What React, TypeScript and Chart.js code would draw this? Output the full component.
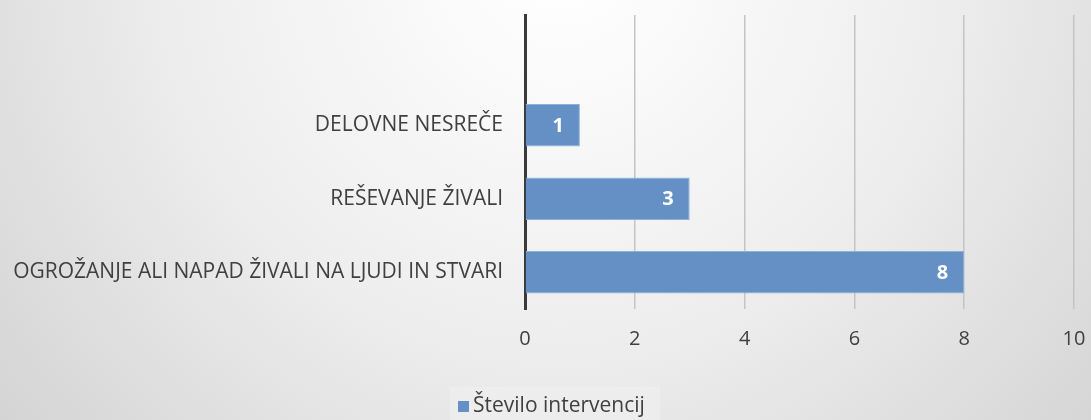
import React, { useEffect, useRef } from "react";
import { Chart, registerables } from "chart.js";

Chart.register(...registerables);

const categories = ["", "DELOVNE NESREČE", "REŠEVANJE ŽIVALI", "OGROŽANJE ALI NAPAD ŽIVALI NA LJUDI IN STVARI"];
const values: (number | null)[] = [null, 1, 3, 8];
const seriesName = "Število intervencij";
const FONT = "'Open Sans', 'DejaVu Sans', sans-serif";
const BAR = "#6590c6";

const bgPlugin = {
  id: "bg",
  beforeDraw(chart: any) {
    const { ctx, width, height } = chart;
    ctx.save();
    const g = ctx.createRadialGradient(560, -40, 20, 560, -40, 820);
    g.addColorStop(0, "#ffffff");
    g.addColorStop(0.45, "#eeeeee");
    g.addColorStop(1, "#cdcdcd");
    ctx.fillStyle = g;
    ctx.fillRect(0, 0, width, height);
    // legend box
    ctx.fillStyle = "rgba(240,240,240,0.6)";
    ctx.fillRect(450, 387, 210, 33);
    ctx.restore();
  },
  afterDraw(chart: any) {
    const { ctx } = chart;
    ctx.save();
    const meta = chart.getDatasetMeta(0);
    ctx.font = `bold 20px ${FONT}`;
    ctx.fillStyle = "#ffffff";
    ctx.textAlign = "right";
    ctx.textBaseline = "middle";
    meta.data.forEach((el: any, i: number) => {
      const v = values[i];
      if (v == null) return;
      ctx.fillText(String(v), el.x - 16, el.y + 1);
    });
    // legend
    ctx.fillStyle = BAR;
    ctx.fillRect(458, 401, 11, 11);
    ctx.font = `21px ${FONT}`;
    ctx.fillStyle = "#404040";
    ctx.textAlign = "left";
    ctx.textBaseline = "middle";
    ctx.fillText(seriesName, 473, 406);
    ctx.restore();
  },
};

export default function App() {
  const ref = useRef<HTMLCanvasElement>(null);
  useEffect(() => {
    document.body.style.margin = "0";
    const chart = new Chart(ref.current!, {
      type: "bar",
      data: {
        labels: categories,
        datasets: [
          {
            label: seriesName,
            data: values,
            backgroundColor: BAR,
            borderColor: "#8eb0da",
            borderWidth: 1,
            categoryPercentage: 1,
            barPercentage: 0.58,
          },
        ],
      },
      options: {
        indexAxis: "y",
        animation: false,
        responsive: false,
        layout: { padding: { top: 15, right: 17, left: 0, bottom: 0 } },
        plugins: { legend: { display: false }, tooltip: { enabled: false } },
        scales: {
          x: {
            min: 0,
            max: 10,
            ticks: { stepSize: 2, color: "#404040", font: { family: FONT, size: 20 }, padding: 18 },
            grid: { color: "#c4c4c4", lineWidth: 1.5, drawTicks: false },
            border: { display: false },
            afterFit: (s: any) => {
              s.height = 111;
              s.paddingLeft = 0;
              s.paddingRight = 0;
            },
          },
          y: {
            ticks: { color: "#404040", font: { family: FONT, size: 21 }, padding: 22 },
            grid: { display: false, drawTicks: false },
            border: { display: true, color: "#3a3a3a", width: 3 },
            afterFit: (s: any) => {
              s.width = 525;
              s.paddingTop = 0;
              s.paddingBottom = 0;
            },
          },
        },
      },
      plugins: [bgPlugin],
    });
    return () => chart.destroy();
  }, []);
  return (
    <div style={{ width: 1091, height: 420 }}>
      <canvas ref={ref} width={1091} height={420} />
    </div>
  );
}
